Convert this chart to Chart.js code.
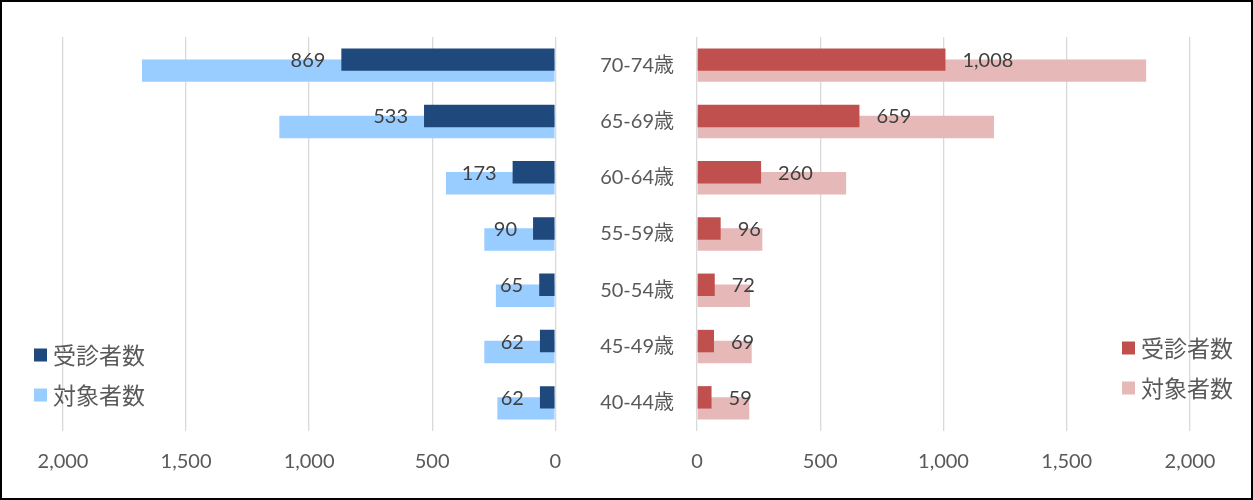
<!DOCTYPE html>
<html><head><meta charset="utf-8">
<script src="https://cdn.jsdelivr.net/npm/chart.js@4"></script>
<style>
html,body{margin:0;padding:0;background:#fff;}
#wrap{position:relative;width:1253px;height:500px;overflow:hidden;background:#fff;}
#frame{position:absolute;left:0;top:0;width:1253px;height:500px;box-sizing:border-box;border:2px solid #000;pointer-events:none;z-index:5;}
.box{position:absolute;top:0;height:500px;}
#lbox{left:0;width:580px;}
#rbox{left:560px;width:693px;}
</style></head><body>
<div id="wrap">
<div class="box" id="lbox"><canvas id="left"></canvas></div>
<div class="box" id="rbox"><canvas id="right"></canvas></div>
<div id="frame"></div>
</div>
<script>
// ---- data ----
const categories = ['70-74歳','65-69歳','60-64歳','55-59歳','50-54歳','45-49歳','40-44歳'];
const seriesNames = ['受診者数','対象者数'];
const leftExamined = [869, 533, 173, 90, 65, 62, 62];
const leftTarget   = [1679, 1121, 444, 288, 241, 288, 235];
const rightExamined = [1008, 659, 260, 96, 72, 69, 59];
const rightTarget   = [1822, 1205, 605, 265, 215, 222, 212];
const axisMin = 0, axisMax = 2000, axisStep = 500;

// ---- styles ----
const FONT = 'Lato, "Noto Sans CJK JP", sans-serif';
const CJK = '"Noto Sans CJK JP", Lato, sans-serif';
const TICK_COLOR = '#595959';
const GRID_COLOR = '#d9d9d9';

const valueLabels = {
  id: 'valueLabels',
  afterDatasetsDraw(chart, args, opts) {
    const meta = chart.getDatasetMeta(0);
    const ctx = chart.ctx;
    ctx.save();
    ctx.font = '20px ' + FONT;
    ctx.fillStyle = '#404040';
    ctx.textBaseline = 'middle';
    ctx.textAlign = opts.side === 'left' ? 'right' : 'left';
    meta.data.forEach((bar, i) => {
      const v = chart.data.datasets[0].data[i];
      const x = opts.side === 'left' ? bar.x - 16 : bar.x + 17;
      ctx.fillText(v.toLocaleString('en-US'), x, bar.y + 1);
    });
    ctx.restore();
  }
};

const innerLegend = {
  id: 'innerLegend',
  afterDraw(chart, args, opts) {
    const ctx = chart.ctx;
    ctx.save();
    ctx.font = '23px ' + CJK;
    ctx.textBaseline = 'middle';
    ctx.textAlign = 'left';
    chart.data.datasets.forEach((ds, i) => {
      const cy = opts.y + i * opts.gap;
      ctx.fillStyle = ds.backgroundColor;
      ctx.fillRect(opts.x, cy - 6.5, 13, 13);
      ctx.fillStyle = TICK_COLOR;
      ctx.fillText(ds.label, opts.x + 19, cy);
    });
    ctx.restore();
  }
};

function makeChart(id, side, examined, target, cDark, cLight, legendPos) {
  const isLeft = side === 'left';
  return new Chart(document.getElementById(id), {
    type: 'bar',
    data: {
      labels: categories,
      datasets: [
        { label: seriesNames[0], data: examined, backgroundColor: cDark,
          categoryPercentage: 0.391, barPercentage: 2.04 },
        { label: seriesNames[1], data: target, backgroundColor: cLight,
          categoryPercentage: 0.391, barPercentage: 2.04 }
      ]
    },
    options: {
      indexAxis: 'y',
      responsive: true,
      maintainAspectRatio: false,
      animation: false,
      locale: 'en-US',
      layout: { padding: isLeft ? {left: 63, right: 24, top: 37, bottom: 19}
                                : {left: 0, right: 63, top: 37, bottom: 19} },
      plugins: {
        legend: { display: false },
        tooltip: { enabled: false },
        valueLabels: { side: side },
        innerLegend: legendPos
      },
      scales: {
        x: {
          reverse: isLeft,
          min: axisMin, max: axisMax,
          ticks: { stepSize: axisStep, color: TICK_COLOR, font: { size: 20, family: FONT }, padding: 19, maxRotation: 0 },
          grid: { color: GRID_COLOR, lineWidth: 1.3, drawTicks: false },
          border: { display: false },
          afterFit(s) { s.height = 50; }
        },
        y: isLeft ? { display: false } : {
          ticks: { color: TICK_COLOR, font: { size: 20, family: FONT }, padding: 23 },
          grid: { display: false, drawTicks: false },
          border: { display: false },
          afterFit(s) { s.width = 137; }
        }
      }
    },
    plugins: [valueLabels, innerLegend]
  });
}

makeChart('left', 'left', leftExamined, leftTarget, '#1F497D', '#99CCFF', { x: 34, y: 355, gap: 40 });
makeChart('right', 'right', rightExamined, rightTarget, '#C0504D', '#E6B9B8', { x: 562, y: 348, gap: 40 });
</script>
</body></html>
